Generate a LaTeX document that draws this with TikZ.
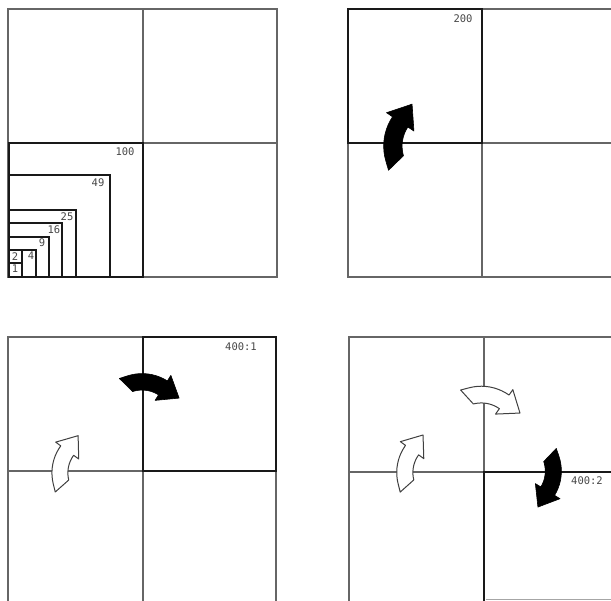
\documentclass[tikz,border=0pt]{standalone}
\usepackage{fontspec}
\newfontfamily\lblfont{DejaVu Sans Mono}
\newcommand{\cvarrow}[5]{%
  \begin{scope}[shift={(#1,#2)}, x=1pt, y=1pt, rotate=#3, scale=#4, shift={(45,5)}]
    \path[#5] (-54.5,-10) -- plot[domain=180:130,samples=11] (\x:54.5) -- (130:62)
      -- (-12.08,48.61) -- (130:28) -- plot[domain=130:180,samples=11] (\x:35.5) -- cycle;
  \end{scope}}
\begin{document}
\begin{tikzpicture}[x=1pt,y=-1pt,
  gridline/.style={line width=1.3pt, draw=black!60},
  boldline/.style={line width=2.3pt, draw=black!90},
  lbl/.style={font=\lblfont\fontsize{10.5}{12}\selectfont, text=black!72, inner sep=0pt},
  blackarrow/.style={fill=black, draw=black, line width=0.6pt, line join=round},
  whitearrow/.style={fill=white, draw=black!75, line width=1pt, line join=round}]
\clip (0,0) rectangle (611,601);
\fill[white] (0,0) rectangle (611,601);

% ---------- panel 1 ----------
\draw[gridline] (8,9) rectangle (277,277);
\draw[gridline] (143,9) -- (143,277) (8,143) -- (277,143);
\draw[boldline] (9,143) rectangle (143,277);
\draw[boldline] (9,175) -| (110,277);
\draw[boldline] (9,210) -| (76,277);
\draw[boldline] (9,223) -| (62,277);
\draw[boldline] (9,237) -| (49,277);
\draw[boldline] (9,250) -| (36,277);
\draw[boldline] (22,250) -- (22,277);
\draw[boldline] (9,263) -- (22,263);
\node[lbl] (l100) at (125,152) {100};
\node[lbl] (l49) at (98,183) {49};
\node[lbl] (l25) at (67,217) {25};
\node[lbl] (l16) at (54,230) {16};
\node[lbl] (l9) at (42,243) {9};
\node[lbl] (l4) at (31,256) {4};
\node[lbl] (l2) at (15,257) {2};
\node[lbl] (l1) at (15,269) {1};

% ---------- panel 2 ----------
\draw[gridline] (348,9) rectangle (617,277);
\draw[gridline] (482,9) -- (482,277) (348,143) -- (617,143);
\draw[boldline] (348,9) rectangle (482,143);
\node[lbl] (l200) at (463,19) {200};
\cvarrow{396}{163}{16.3}{0.97}{blackarrow}

% ---------- panel 3 ----------
\draw[gridline] (8,337) rectangle (276,605);
\draw[gridline] (143,337) -- (143,605) (8,471) -- (276,471);
\draw[boldline] (143,337) rectangle (276,471);
\node[lbl] (l4001) at (241,347) {400:1};
\cvarrow{62}{486}{13.8}{0.84}{whitearrow}
\cvarrow{126}{385}{-72.3}{0.87}{blackarrow}

% ---------- panel 4 ----------
\draw[gridline] (349,337) rectangle (618,605);
\draw[gridline] (484,337) -- (484,605) (349,472) -- (618,472);
\draw[boldline] (484,605) -- (484,472) -- (618,472);
\draw[line width=1pt, draw=black!35] (486,599) -- (611,599);
\node[lbl, anchor=west] (l4002) at (571,481) {400:2};
\cvarrow{407}{486}{14.1}{0.85}{whitearrow}
\cvarrow{467}{397}{-75.3}{0.88}{whitearrow}
\cvarrow{550}{455}{-161.5}{0.85}{blackarrow}
\end{tikzpicture}
\end{document}
